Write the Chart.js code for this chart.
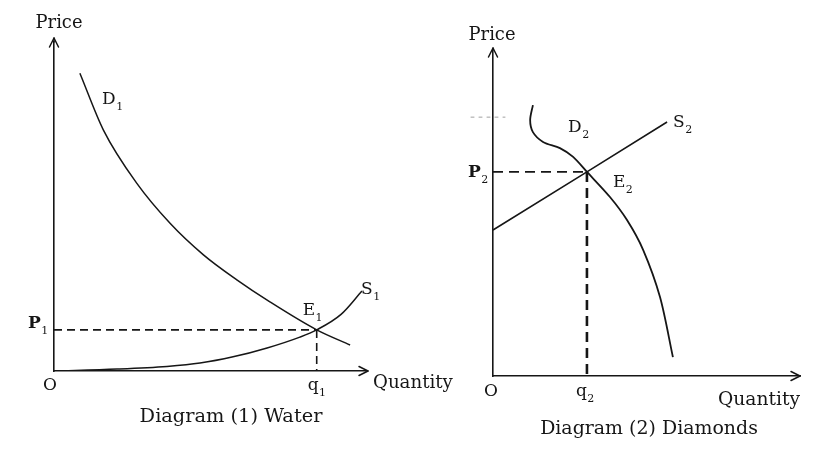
<!DOCTYPE html>
<html><head><meta charset="utf-8">
<script src="https://cdn.jsdelivr.net/npm/chart.js@4.4.0/dist/chart.umd.min.js"></script>
<style>
html,body{margin:0;padding:0;background:#fff;width:819px;height:452px;overflow:hidden}
#c1{position:absolute;left:0;top:0}
#c2{position:absolute;left:460px;top:0}
</style></head><body>
<canvas id="c1" width="460" height="452"></canvas>
<canvas id="c2" width="359" height="452"></canvas>
<script>
// ---- Diagram (1) Water ----
const waterDemandQ = [0.83, 1.58, 2.65, 3.72, 4.79, 5.86, 6.92, 8.42, 9.49];
const waterDemandP = [9.05, 7.33, 5.71, 4.49, 3.53, 2.77, 2.10, 1.25, 0.79];
const waterSupplyQ = [0, 2.02, 3.62, 4.68, 5.74, 6.83, 7.88, 8.42, 9.20, 9.87];
const waterSupplyP = [0, 0.06, 0.14, 0.24, 0.43, 0.70, 1.03, 1.25, 1.72, 2.43];
const waterEquilibrium = [8.42, 1.25];   // [q1, P1]

// ---- Diagram (2) Diamonds ----
const diamondDemandQ = [1.30, 1.21, 1.30, 1.63, 2.18, 2.61, 3.06, 3.81, 4.36, 4.89, 5.44, 5.86];
const diamondDemandP = [8.31, 7.85, 7.48, 7.18, 6.99, 6.72, 6.26, 5.49, 4.79, 3.87, 2.42, 0.58];
const diamondSupplyQ = [0, 3.06, 5.67];
const diamondSupplyP = [4.48, 6.26, 7.79];
const diamondEquilibrium = [3.06, 6.26]; // [q2, P2]
const diamondFaintTick = 7.94;

const INK = '#161616';
const FONT = '"DejaVu Serif", "Liberation Serif", serif';

const pts = (xs, ys) => xs.map((v, i) => ({x: v, y: ys[i]}));

function makeDiagramPlugin(o) {
  return {
    id: 'diagram',
    afterDraw(chart) {
      const ctx = chart.ctx, ca = chart.chartArea;
      const xs = chart.scales.x, ys = chart.scales.y;
      ctx.save();
      ctx.strokeStyle = INK; ctx.fillStyle = INK; ctx.lineWidth = 1.5;
      ctx.lineCap = 'round'; ctx.lineJoin = 'round';
      // y arrow
      const ax = ca.left, ay = ca.top - o.arrowUp;
      ctx.beginPath(); ctx.moveTo(ax, ca.top); ctx.lineTo(ax, ay); ctx.stroke();
      ctx.beginPath(); ctx.moveTo(ax - 4.5, ay + 9); ctx.lineTo(ax, ay); ctx.lineTo(ax + 4.5, ay + 9); ctx.stroke();
      // x arrow
      const bx = ca.right + o.arrowRight, by = ca.bottom;
      ctx.beginPath(); ctx.moveTo(ca.right, by); ctx.lineTo(bx, by); ctx.stroke();
      ctx.beginPath(); ctx.moveTo(bx - 9, by - 4.5); ctx.lineTo(bx, by); ctx.lineTo(bx - 9, by + 4.5); ctx.stroke();
      // faint tick
      if (o.faint != null) {
        const fy = ys.getPixelForValue(o.faint);
        ctx.strokeStyle = '#a0a0a0'; ctx.lineWidth = 1; ctx.setLineDash([3, 5]);
        ctx.beginPath(); ctx.moveTo(ca.left - 22, fy); ctx.lineTo(ca.left + 12, fy); ctx.stroke();
        ctx.setLineDash([]); ctx.strokeStyle = INK;
      }
      // texts
      ctx.textBaseline = 'alphabetic';
      ctx.textAlign = 'left';
      for (const t of o.texts) {
        let x = t.px ? t.px[0] : 0, y = t.px ? t.px[1] : 0;
        if (t.at) { x = xs.getPixelForValue(t.at[0]) + t.d[0]; y = ys.getPixelForValue(t.at[1]) + t.d[1]; }
        let size = t.size;
        const wt = t.bold ? 'bold ' : '';
        ctx.font = wt + size + 'px ' + FONT;
        if (t.w) {
          size = size * t.w / ctx.measureText(t.main).width;
          ctx.font = wt + size.toFixed(2) + 'px ' + FONT;
        }
        const w = ctx.measureText(t.main).width;
        if (t.align === 'center') x -= w / 2;
        ctx.fillText(t.main, x, y);
        if (t.sub) {
          ctx.font = Math.round(size * 0.62) + 'px ' + FONT;
          ctx.fillText(t.sub, x + w + 0.5, y + size * 0.34);
        }
      }
      ctx.restore();
    }
  };
}

function makeOptions(pad) {
  const axis = (isX) => ({
    type: 'linear', min: 0, max: 10,
    grid: {display: false, drawTicks: false},
    ticks: {display: false},
    border: {display: true, color: INK, width: 1.6},
    afterFit(s) { if (isX) s.height = 0; else s.width = 0; }
  });
  return {
    responsive: false, animation: false, events: [],
    layout: {padding: pad},
    plugins: {legend: {display: false}, tooltip: {enabled: false}},
    scales: {x: axis(true), y: axis(false)},
    elements: {point: {radius: 0}}
  };
}

const curve = (data, width, mode, tension) => ({
  data, showLine: true, borderColor: INK, borderWidth: width,
  cubicInterpolationMode: mode, tension: tension, pointRadius: 0, fill: false
});
const dashed = (data, width, dash) => ({
  data, showLine: true, borderColor: INK, borderWidth: width, borderDash: dash, tension: 0, pointRadius: 0
});

// Water chart
const [wq, wp] = waterEquilibrium;
new Chart(document.getElementById('c1'), {
  type: 'scatter',
  plugins: [makeDiagramPlugin({
    arrowUp: 4, arrowRight: 2, faint: null,
    texts: [
      {main: 'Price', px: [59, 28], size: 17, w: 47, align: 'center'},
      {main: 'D', sub: '1', px: [102, 104], size: 17},
      {main: 'E', sub: '1', at: [wq, wp], d: [-14, -15], size: 17},
      {main: 'S', sub: '1', px: [361, 294], size: 17},
      {main: 'P', sub: '1', at: [0, wp], d: [-26, -2], size: 17, bold: true},
      {main: 'O', px: [50, 390], size: 17, align: 'center'},
      {main: 'q', sub: '1', at: [wq, 0], d: [-9, 19], size: 17},
      {main: 'Quantity', px: [373, 388], size: 17, w: 80},
      {main: 'Diagram (1) Water', px: [231, 422], size: 16, w: 183, align: 'center'}
    ]
  })],
  data: {datasets: [
    curve(pts(waterDemandQ, waterDemandP), 1.5, 'monotone', 0.4),
    curve(pts(waterSupplyQ, waterSupplyP), 1.5, 'monotone', 0.4),
    dashed([{x: 0, y: wp}, {x: wq, y: wp}], 1.6, [8, 5]),
    dashed([{x: wq, y: wp}, {x: wq, y: 0}], 1.6, [8, 5])
  ]},
  options: makeOptions({left: 54, right: 94, top: 42, bottom: 81})
});

// Diamonds chart
const [dq, dp] = diamondEquilibrium;
new Chart(document.getElementById('c2'), {
  type: 'scatter',
  plugins: [makeDiagramPlugin({
    arrowUp: 2, arrowRight: 0, faint: diamondFaintTick,
    texts: [
      {main: 'Price', px: [32, 40], size: 17, w: 47, align: 'center'},
      {main: 'D', sub: '2', px: [108, 132], size: 17},
      {main: 'S', sub: '2', px: [213, 127], size: 17},
      {main: 'E', sub: '2', at: [dq, dp], d: [26, 15], size: 17},
      {main: 'P', sub: '2', at: [0, dp], d: [-25, 5], size: 17, bold: true},
      {main: 'O', px: [31, 396], size: 17, align: 'center'},
      {main: 'q', sub: '2', at: [dq, 0], d: [-11, 20], size: 17},
      {main: 'Quantity', px: [258, 405], size: 17, w: 82},
      {main: 'Diagram (2) Diamonds', px: [189, 434], size: 16, w: 218, align: 'center'}
    ]
  })],
  data: {datasets: [
    curve(pts(diamondDemandQ, diamondDemandP), 1.8, 'default', 0.3),
    curve(pts(diamondSupplyQ, diamondSupplyP), 1.6, 'default', 0),
    dashed([{x: 0, y: dp}, {x: dq, y: dp}], 1.7, [10, 6]),
    dashed([{x: dq, y: dp}, {x: dq, y: 0}], 2.6, [10, 6])
  ]},
  options: makeOptions({left: 33, right: 19, top: 50, bottom: 76})
});
</script>
</body></html>
